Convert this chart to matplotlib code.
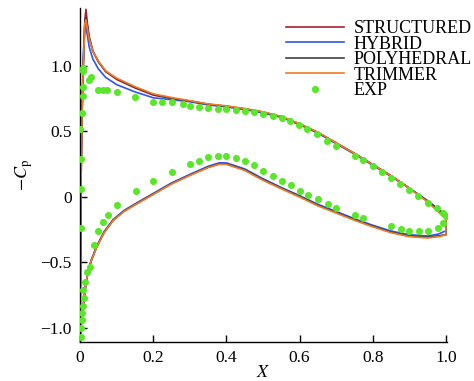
import matplotlib
matplotlib.use("Agg")
import matplotlib.pyplot as plt
from matplotlib.lines import Line2D

plt.rcParams['font.family'] = ['Liberation Serif', 'DejaVu Serif']
plt.rcParams['mathtext.fontset'] = 'stix'

# upper surface, from trailing edge to leading edge
x_up = [1.0, 0.95, 0.9, 0.85, 0.8, 0.75, 0.7, 0.65, 0.6, 0.55, 0.5, 0.45, 0.4, 0.35,
        0.3, 0.25, 0.2, 0.15, 0.1, 0.07, 0.05, 0.035, 0.025, 0.02, 0.016, 0.013,
        0.009, 0.005, 0.002, 0.0]
structured_up = [-0.14, -0.035, 0.065, 0.16, 0.245, 0.33, 0.41, 0.49, 0.555, 0.61, 0.645,
                 0.67, 0.69, 0.705, 0.73, 0.75, 0.775, 0.83, 0.895, 0.955, 1.03, 1.11,
                 1.22, 1.32, 1.43, 1.35, 1.02, 0.6, 0.0, -1.07]
hybrid_up = [-0.15, -0.03, 0.065, 0.155, 0.24, 0.325, 0.405, 0.485, 0.55, 0.605, 0.64,
             0.665, 0.685, 0.70, 0.725, 0.74, 0.755, 0.80, 0.855, 0.91, 0.975, 1.05,
             1.14, 1.23, 1.29, 1.31, 1.1, 0.65, 0.0, -1.07]
polyhedral_up = [-0.14, -0.035, 0.065, 0.16, 0.245, 0.33, 0.41, 0.49, 0.555, 0.61, 0.645,
                 0.67, 0.69, 0.705, 0.73, 0.752, 0.78, 0.835, 0.90, 0.955, 1.03, 1.11,
                 1.21, 1.30, 1.37, 1.33, 1.02, 0.6, 0.0, -1.07]
trimmer_up = [-0.17, -0.04, 0.065, 0.16, 0.245, 0.33, 0.412, 0.492, 0.558, 0.612, 0.648,
              0.673, 0.693, 0.708, 0.733, 0.757, 0.785, 0.84, 0.905, 0.96, 1.035, 1.11,
              1.2, 1.28, 1.35, 1.32, 1.02, 0.6, 0.0, -1.07]

# lower surface, from leading edge to trailing edge
x_lo = [0.0, 0.003, 0.006, 0.01, 0.015, 0.02, 0.03, 0.045, 0.065, 0.09, 0.12, 0.15, 0.2,
        0.25, 0.3, 0.35, 0.38, 0.4, 0.45, 0.5, 0.55, 0.6, 0.65, 0.7, 0.75, 0.8, 0.85,
        0.9, 0.95, 0.98, 1.0]
structured_lo = [-1.07, -0.98, -0.9, -0.8, -0.68, -0.6, -0.49, -0.385, -0.275, -0.18, -0.11,
                 -0.06, 0.02, 0.1, 0.165, 0.225, 0.25, 0.25, 0.205, 0.13, 0.065, 0.002,
                 -0.065, -0.12, -0.175, -0.225, -0.27, -0.3, -0.31, -0.3, -0.29]
hybrid_lo = [-1.07, -0.98, -0.9, -0.8, -0.68, -0.6, -0.49, -0.38, -0.27, -0.175, -0.105,
             -0.055, 0.025, 0.105, 0.17, 0.232, 0.258, 0.258, 0.212, 0.137, 0.07, 0.008,
             -0.058, -0.113, -0.168, -0.218, -0.262, -0.29, -0.3, -0.285, -0.26]
polyhedral_lo = [-1.07, -0.98, -0.9, -0.8, -0.68, -0.6, -0.49, -0.385, -0.275, -0.18, -0.11,
                 -0.06, 0.02, 0.1, 0.165, 0.225, 0.25, 0.25, 0.205, 0.13, 0.065, 0.002,
                 -0.065, -0.12, -0.175, -0.225, -0.27, -0.3, -0.31, -0.3, -0.29]
trimmer_lo = [-1.07, -0.98, -0.9, -0.8, -0.68, -0.6, -0.49, -0.388, -0.278, -0.183, -0.113,
              -0.063, 0.017, 0.097, 0.162, 0.222, 0.247, 0.247, 0.2, 0.125, 0.06, -0.003,
              -0.07, -0.125, -0.18, -0.23, -0.275, -0.305, -0.315, -0.305, -0.29]

# experiment
exp_x = [0.002, 0.002, 0.0, 0.005, 0.007, 0.009, 0.009, 0.007, 0.025, 0.029, 0.05, 0.062,
         0.073, 0.1, 0.15, 0.2, 0.225, 0.25, 0.28, 0.30, 0.326, 0.35, 0.376, 0.40, 0.426,
         0.452, 0.476, 0.50, 0.526, 0.551, 0.574, 0.598, 0.621, 0.649, 0.674, 0.70, 0.751,
         0.774, 0.80, 0.824, 0.85, 0.874, 0.90, 0.925, 0.95, 0.975, 0.993,
         0.002, 0.002, 0.002, 0.005, 0.005, 0.007, 0.011, 0.009, 0.014, 0.018, 0.027, 0.038,
         0.05, 0.062, 0.076, 0.1, 0.153, 0.2, 0.25, 0.30, 0.326, 0.35, 0.376, 0.40, 0.426,
         0.45, 0.476, 0.50, 0.526, 0.552, 0.576, 0.60, 0.624, 0.651, 0.678, 0.70, 0.751,
         0.774, 0.85, 0.876, 0.90, 0.927, 0.952, 0.979, 0.993, 1.0]
exp_y = [0.06, 0.29, 0.52, 0.64, 0.766, 0.837, 0.957, 0.98, 0.89, 0.91, 0.817, 0.817,
         0.817, 0.80, 0.76, 0.722, 0.722, 0.72, 0.705, 0.693, 0.687, 0.68, 0.672, 0.666,
         0.66, 0.651, 0.643, 0.634, 0.618, 0.60, 0.575, 0.55, 0.517, 0.478, 0.426, 0.389,
         0.313, 0.282, 0.237, 0.186, 0.143, 0.099, 0.053, 0.008, -0.045, -0.09, -0.125,
         -0.24, -1.0, -1.07, -0.94, -0.888, -0.837, -0.773, -0.71, -0.654, -0.578, -0.537,
         -0.366, -0.265, -0.196, -0.137, -0.061, 0.04, 0.12, 0.186, 0.25, 0.275, 0.30,
         0.313, 0.313, 0.295, 0.27, 0.239, 0.198, 0.16, 0.122, 0.086, 0.044, 0.012, -0.02,
         -0.057, -0.09, -0.141, -0.166, -0.227, -0.243, -0.26, -0.265, -0.265, -0.24,
         -0.2, -0.15]

series = [
    ('STRUCTURED', structured_up, structured_lo, '#b01c2e'),
    ('HYBRID', hybrid_up, hybrid_lo, '#2f55f0'),
    ('POLYHEDRAL', polyhedral_up, polyhedral_lo, '#404040'),
    ('TRIMMER', trimmer_up, trimmer_lo, '#f07a28'),
]

fig = plt.figure(figsize=(4.74, 3.81), dpi=100)
ax = fig.add_axes([0.169, 0.102, 0.774, 0.877])

handles = []
for name, yu, yl, c in series:
    xs = x_up + x_lo + [x_up[0]]
    ys = yu + yl + [yu[0]]
    ax.plot(xs, ys, color=c, lw=1.2)
    handles.append(Line2D([], [], color=c, lw=1.2, label=name))

ax.scatter(exp_x, exp_y, s=26, color='#5ae62a', zorder=3, linewidths=0)
handles.append(Line2D([], [], ls='none', marker='o', ms=5.2, color='#5ae62a',
                      markeredgewidth=0, label='EXP'))

ax.set_xlim(0, 1.003)
ax.set_ylim(-1.11, 1.44)
ax.set_xticks([0, 0.2, 0.4, 0.6, 0.8, 1.0])
ax.set_xticklabels(['0', '0.2', '0.4', '0.6', '0.8', '1.0'])
ax.set_yticks([-1.0, -0.5, 0, 0.5, 1.0])
ax.set_yticklabels(['\u22121.0', '\u22120.5', '0', '0.5', '1.0'])
ax.tick_params(direction='in', length=5, width=1, labelsize=12.5, pad=6)
for s in ['top', 'right']:
    ax.spines[s].set_visible(False)
for s in ['left', 'bottom']:
    ax.spines[s].set_linewidth(1.0)

ax.set_xlabel('$X$', fontsize=13, labelpad=-2)
ax.set_ylabel(r'$-C_\mathrm{p}$', fontsize=13, labelpad=4)

ax.legend(handles=handles, loc='upper right', bbox_to_anchor=(1.0, 0.952),
          bbox_transform=fig.transFigure, frameon=False, fontsize=13,
          handlelength=3.2, handletextpad=0.55, labelspacing=-0.08,
          borderaxespad=0.0, borderpad=0.1, numpoints=1)

fig.savefig('out.png', dpi=100)
